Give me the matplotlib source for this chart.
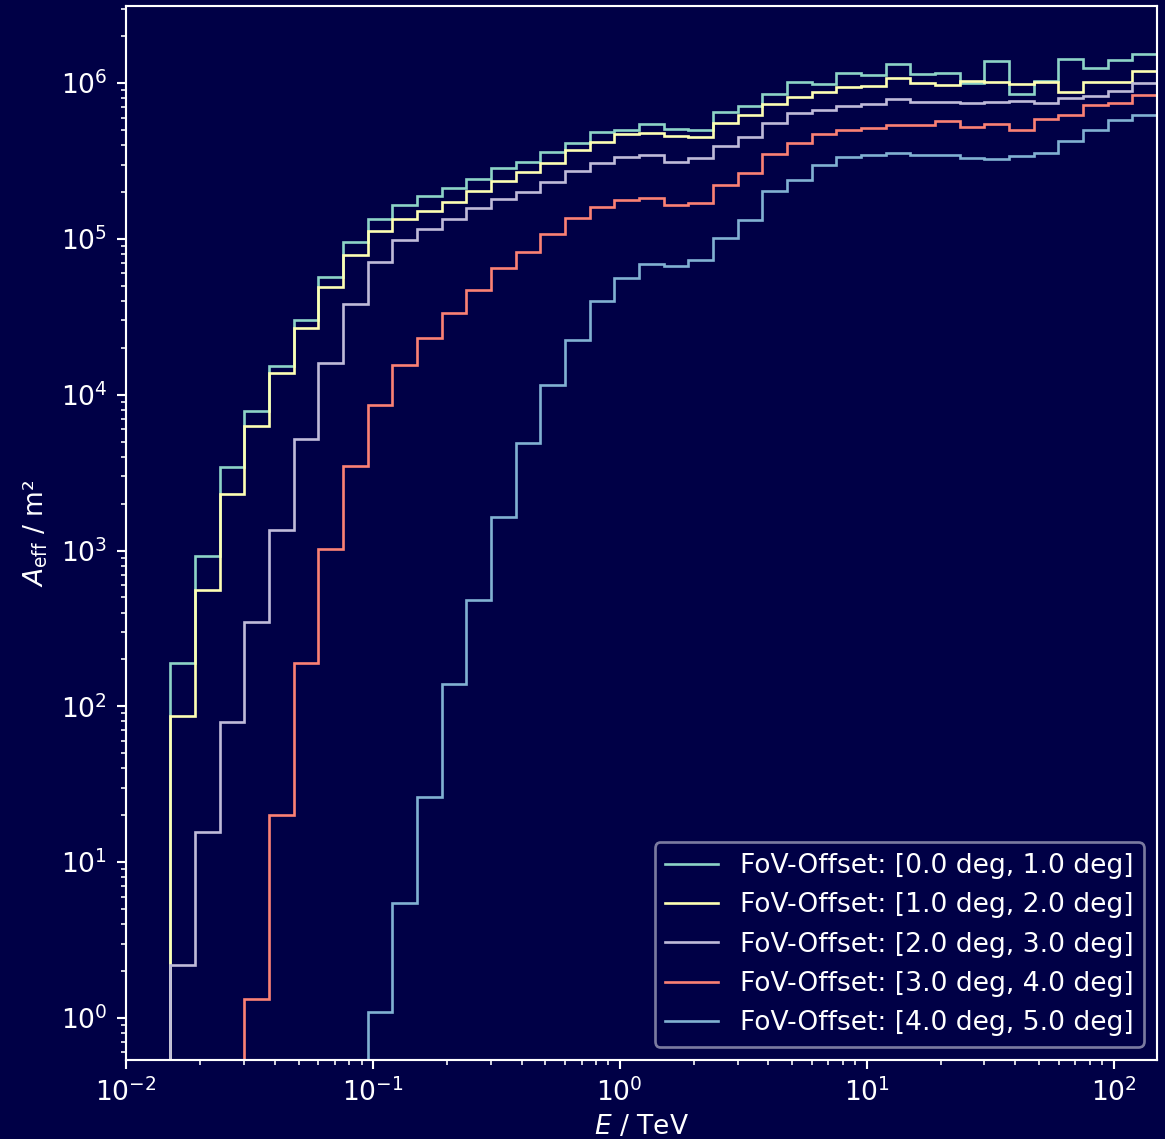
import numpy as np
import matplotlib
matplotlib.use("Agg")
import matplotlib.pyplot as plt

# Energy binning: 41 log-spaced bins, ~10 per decade
e_min_tev = 0.012
e_max_tev = 150.0
n_bins = 41

offset_labels = [
    "FoV-Offset: [0.0 deg, 1.0 deg]",
    "FoV-Offset: [1.0 deg, 2.0 deg]",
    "FoV-Offset: [2.0 deg, 3.0 deg]",
    "FoV-Offset: [3.0 deg, 4.0 deg]",
    "FoV-Offset: [4.0 deg, 5.0 deg]",
]

# Effective area per energy bin (m^2)
aeff_0_1 = [0, 190, 929, 3440, 7900, 15300, 30200, 56800, 96000, 134000,
            164000, 189000, 212000, 242000, 287000, 311000, 360000, 414000, 486000, 500000,
            546000, 511000, 501000, 648000, 712000, 854000, 1010000, 994000, 1160000, 1125000,
            1317000, 1136000, 1165000, 1000000, 1377000, 850000, 1030000, 1430000, 1250000, 1410000,
            1540000]
aeff_1_2 = [0, 87, 557, 2300, 6300, 13800, 26800, 49000, 78900, 112000,
            134000, 152000, 172000, 204000, 237000, 267000, 306000, 373000, 421000, 470000,
            477000, 459000, 452000, 556000, 626000, 733000, 820000, 883000, 942000, 957000,
            1077000, 1009000, 966000, 1030000, 1015000, 994000, 1020000, 875000, 1015000, 1010000,
            1205000]
aeff_2_3 = [0, 2.2, 15.7, 79.8, 348, 1346, 5200, 16100, 38100, 70800,
            98600, 116000, 135000, 157000, 180000, 200000, 231000, 273000, 306000, 337000,
            346000, 311000, 330000, 392000, 448000, 558000, 642000, 671000, 712000, 736000,
            789000, 759000, 762000, 744000, 752000, 773000, 744000, 805000, 829000, 893000,
            1000000]
aeff_3_4 = [0, 0, 0, 0, 1.33, 20.2, 189, 1023, 3500, 8550,
            15500, 23100, 33300, 47000, 64800, 82000, 108000, 136000, 161000, 178000,
            183000, 164000, 170000, 221000, 264000, 352000, 412000, 470000, 503000, 516000,
            537000, 540000, 570000, 522000, 546000, 501000, 587000, 622000, 722000, 744000,
            837000]
aeff_4_5 = [0, 0, 0, 0, 0, 0, 0, 0, 0, 1.09,
            5.48, 26, 140, 482, 1637, 4920, 11500, 22300, 39700, 56000,
            68800, 67100, 73300, 101000, 132000, 203000, 238000, 300000, 335000, 346000,
            355000, 348000, 346000, 333000, 326000, 340000, 358000, 426000, 501000, 578000,
            628000]

series = [aeff_0_1, aeff_1_2, aeff_2_3, aeff_3_4, aeff_4_5]
colors = ["#8dd3c7", "#feffb3", "#bfbbd9", "#fa8174", "#81b1d2"]

plt.style.use("dark_background")
bg = "#000046"
plt.rcParams.update({
    "font.family": ["DejaVu Sans"],
    "font.size": 10,
    "figure.facecolor": bg,
    "axes.facecolor": bg,
    "savefig.facecolor": bg,
})

edges = np.logspace(np.log10(e_min_tev), np.log10(e_max_tev), n_bins + 1)

dpi = 191
fig = plt.figure(figsize=(1165 / dpi, 1139 / dpi), dpi=dpi)
ax = fig.add_axes([126 / 1165, 1 - 1060 / 1139, (1157 - 126) / 1165, (1060 - 6) / 1139])
ax.set_xscale("log")
ax.set_yscale("log")

for vals, col, lab in zip(series, colors, offset_labels):
    ax.stairs(np.asarray(vals, dtype=float), edges, baseline=None,
              color=col, linewidth=1.0, label=lab)

positive = np.concatenate([np.asarray(v, float) for v in series])
positive = positive[positive > 0]
lo, hi = np.log10(positive.min()), np.log10(positive.max())
pad = 0.05 * (hi - lo)
ax.set_ylim(10 ** (lo - pad), 10 ** (hi + pad))
ax.set_xlim(1e-2, edges[-1])

ax.set_xlabel(r"$E$ / TeV", labelpad=2.5)
ax.set_ylabel(r"$A_\mathrm{eff}$ / m²")

for s in ax.spines.values():
    s.set_color("white")

leg = ax.legend(loc="lower right", facecolor=bg, edgecolor="#9a9ab8", framealpha=0.8)

fig.savefig("out.png", dpi=dpi)
